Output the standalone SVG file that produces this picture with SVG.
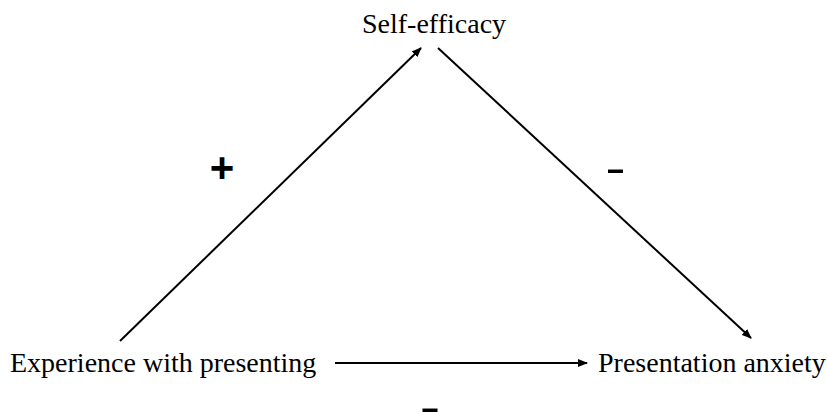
<svg xmlns="http://www.w3.org/2000/svg" width="827" height="412" viewBox="0 0 827 412">
<defs>
<marker id="ah" markerWidth="10" markerHeight="8" refX="9" refY="4" orient="auto" markerUnits="userSpaceOnUse">
<path d="M0,0 L10,4 L0,8 Z" fill="#000"/>
</marker>
<style>
.lbl{font-family:"Liberation Serif","Times New Roman",serif;font-size:28px;fill:#000}
.sign{font-family:"Liberation Sans",Arial,sans-serif;fill:#000;text-anchor:middle}
.c{stroke:#000;stroke-width:2;fill:none;marker-end:url(#ah)}
</style>
</defs>
<rect width="827" height="412" fill="#fff"/>
<g id="connectors">
<line class="c" x1="120" y1="341" x2="421" y2="48"/>
<line class="c" x1="438" y1="48" x2="751" y2="338"/>
<line class="c" x1="335" y1="363" x2="587" y2="363"/>
</g>
<g id="self-efficacy"><text class="lbl" x="362" y="33">Self-efficacy</text></g>
<g id="experience"><text class="lbl" x="10" y="372">Experience with presenting</text></g>
<g id="anxiety"><text class="lbl" x="598" y="372">Presentation anxiety</text></g>
<g id="signs">
<text class="sign" x="222" y="182" font-size="42" font-weight="bold">+</text>
<text class="sign" transform="translate(615.5,183.3) scale(1.4,1)" x="0" y="0" font-size="44">-</text>
<text class="sign" transform="translate(430,422) scale(1.4,1)" x="0" y="0" font-size="44">-</text>
</g>
</svg>
